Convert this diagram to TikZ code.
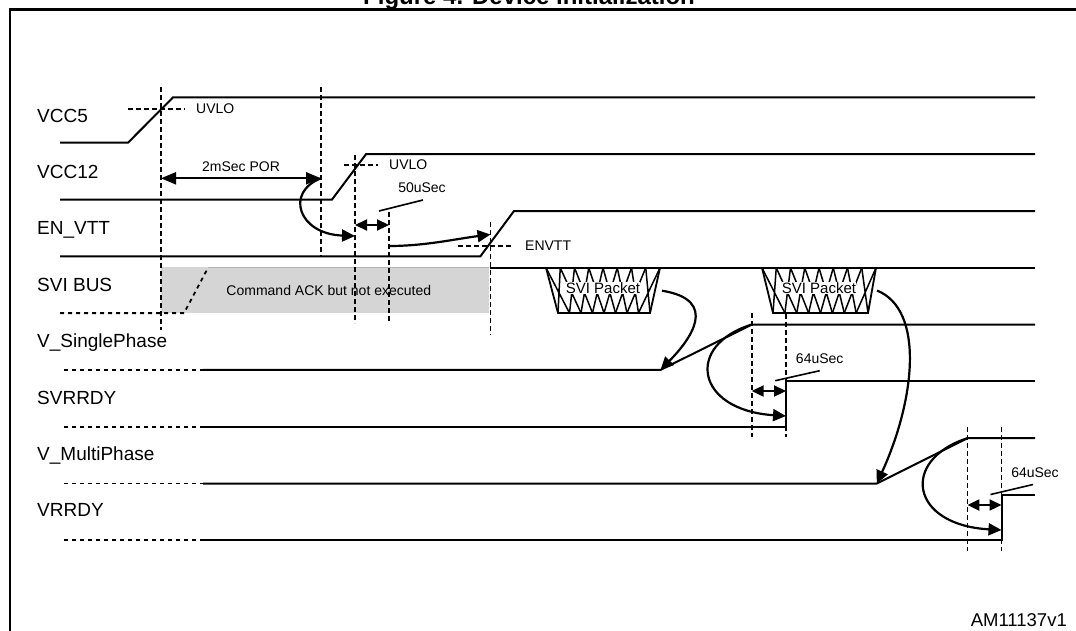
\documentclass[tikz,border=0pt]{standalone}
\usepackage{fontspec}
\setmainfont{Liberation Sans}
\usetikzlibrary{arrows.meta, positioning, calc}

\tikzset{
    % --- Signal waveform ---
    wave/.style = {line width=2pt, line join=miter},
    % --- Undefined level before start-up ---
    undef/.style = {line width=1.8pt, dash pattern=on 4pt off 4pt},
    % --- Timing marker (vertical line or threshold) ---
    tmark/.style = {line width=1.7pt, dash pattern=on 5pt off 3pt},
    % --- Signal name at the left ---
    signame/.style = {
        anchor=base west, inner sep=0pt,
        font=\fontsize{19}{22}\selectfont
    },
    % --- Small annotation text ---
    note/.style = {inner sep=0pt, font=\fontsize{14}{16}\selectfont},
    % --- Cause / effect arrow ---
    cause/.style = {
        line width=2.2pt,
        -{Triangle[length=13pt,width=12pt]}
    },
    % --- Delay interval arrow ---
    delay/.style = {
        line width=2.2pt,
        {Triangle[length=12pt,width=11pt]}-{Triangle[length=12pt,width=11pt]}
    },
    % --- Leader line from a label ---
    leader/.style = {line width=1.6pt},
    % --- SVI packet outline ---
    packet/.style = {line width=1.8pt, line join=miter}
}

\begin{document}
\begin{tikzpicture}[x=1pt, y=-1pt]
\useasboundingbox (0,0) rectangle (1076,630);

% ---------------------------------------------------------
% Frame, title and figure id
% ---------------------------------------------------------
\draw[line width=2.4pt] (10,660) -- (10,9.5) -- (1100,9.5);
\node[anchor=base, inner sep=0pt, font=\bfseries\fontsize{24}{28}\selectfont]
    (title) at (529,4) {Figure 4. Device initialization};
\node[anchor=east, inner sep=0pt, font=\fontsize{18.5}{22}\selectfont]
    (figid) at (1067,620) {AM11137v1};

% ---------------------------------------------------------
% Signal names
% ---------------------------------------------------------
\foreach \sig [count=\k from 0] in {VCC5, VCC12, EN\_VTT, SVI BUS,
    V\_SinglePhase, SVRRDY, V\_MultiPhase, VRRDY} {
    \node[signame] (name\k) at (37, 122.1+56.4*\k) {\sig};
}

% ---------------------------------------------------------
% Waveforms
% ---------------------------------------------------------
% VCC5, VCC12, EN_VTT
\draw[wave] (60,142.7) -- (128,142.7) -- (173,97.4) -- (1035,97.4);
\draw[wave] (60,199.5) -- (332,199.5) -- (366,154.2) -- (1035,154.2);
\draw[wave] (60,256.3) -- (480.4,256.3) -- (514,211) -- (1035,211);

% SVI BUS
\fill[gray!33] (161,267.3) rectangle (489,313.1);
\draw[gray!60, line width=1pt] (208,267.8) -- (489,267.8);
\draw[undef] (60,313.1) -- (184,313.1) -- (208,267.8);
\draw[wave] (489.5,267.8) -- (1035,267.8);
\node[note] (ack) at (328.8,290) {Command ACK but not executed};

% regulator outputs and ready flags
\foreach \lo in {369.9, 426.7, 483.5, 540.3}
    \draw[undef] (64,\lo) -- (203,\lo);
\draw[wave] (203,369.9) -- (660.5,369.9) -- (751.7,324.6) -- (1035,324.6);
\draw[wave] (203,426.7) -- (786,426.7) -- (786,381.4) -- (1035,381.4);
\draw[wave] (203,483.5) -- (876.8,483.5) -- (967.4,438.2) -- (1035,438.2);
\draw[wave] (203,540.3) -- (1001.5,540.3) -- (1001.5,495) -- (1035,495);

% ---------------------------------------------------------
% SVI packets
% ---------------------------------------------------------
\foreach \tl/\tr/\bl/\br/\nm in {546/660/558/650/pktA, 762/876/773/868/pktB} {
    \draw[packet] (\tl,267.8) -- (\bl,313) -- (\br,313) -- (\tr,267.8);
    \foreach \i in {0,...,7} {
        \pgfmathsetmacro\ta{\tl+\i*(\tr-\tl)/8}
        \pgfmathsetmacro\tb{\tl+(\i+1)*(\tr-\tl)/8}
        \pgfmathsetmacro\ba{\bl+\i*(\br-\bl)/8}
        \pgfmathsetmacro\bb{\bl+(\i+1)*(\br-\bl)/8}
        \draw[packet, line width=1.5pt]
            (\ta,267.8) -- (\bb,313) (\ba,313) -- (\tb,267.8);
    }
    \node[note, fill=white, inner sep=0.3pt, font=\fontsize{15}{17}\selectfont]
        (\nm) at ({(\tl+\tr)/2},288) {SVI Packet};
}

% ---------------------------------------------------------
% Thresholds and timing markers
% ---------------------------------------------------------
\draw[tmark] (128,108.7) -- (185,108.7);
\node[note, anchor=west] (uvloA) at (196,108.7) {UVLO};
\draw[tmark] (344,165) -- (378,165);
\node[note, anchor=west] (uvloB) at (389,165) {UVLO};
\draw[tmark] (458,246) -- (513,246);
\node[note, anchor=west] (envtt) at (525,246) {ENVTT};

\foreach \x/\ya/\yb in {161/87.3/330, 321/87.3/256.3, 355/155/323,
    389/212/323, 490.5/222/335, 751.7/313/437, 786/314/437,
    967.4/427/551, 1001.5/427/551}
    \draw[tmark] (\x,\ya) -- (\x,\yb);

% ---------------------------------------------------------
% Delays
% ---------------------------------------------------------
\coordinate (porL) at (161,178.3);
\coordinate (porR) at (321,178.3);
\draw[delay, {Triangle[length=15pt,width=12pt]}-{Triangle[length=15pt,width=12pt]}]
    (porL) -- (porR);
\node[note] (por) at (241,166.7) {2mSec POR};

\coordinate (dA1) at (355,225);
\coordinate (dA2) at (389,225);
\draw[delay] (dA1) -- (dA2);
\node[note] (usA) at (422,188) {50uSec};
\draw[leader] (379,211) -- (423,200);

\coordinate (dB1) at (751.7,391);
\coordinate (dB2) at (786,391);
\draw[delay] (dB1) -- (dB2);
\node[note] (usB) at (819.7,358.3) {64uSec};
\draw[leader] (775.2,380.7) -- (819.7,370.7);

\coordinate (dC1) at (967.4,505);
\coordinate (dC2) at (1001.5,505);
\draw[delay] (dC1) -- (dC2);
\node[note] (usC) at (1035,473) {64uSec};
\draw[leader] (990.5,494.5) -- (1033,484.5);

% ---------------------------------------------------------
% Cause / effect arrows
% ---------------------------------------------------------
\coordinate (vttEn) at (355,236);
\draw[cause] (porR) .. controls (285,192) and (298,234) .. (vttEn);

\coordinate (vttStart) at (389,246);
\coordinate (vttThr) at (490.5,234.5);
\draw[cause] (vttStart) .. controls (425,246) and (455,239) .. (vttThr);

\coordinate (pktAout) at (662,290.7);
\coordinate (spRise) at (660.5,369.9);
\draw[cause] (pktAout) .. controls (720,300) and (690,340) .. (spRise);

\coordinate (spTop) at (751.7,324.6);
\coordinate (svrOn) at (786,416);
\draw[cause] (spTop) .. controls (685,345) and (695,410) .. (svrOn);

\coordinate (pktBout) at (877,290.5);
\coordinate (mpRise) at (876.8,483.5);
\draw[cause] (pktBout) .. controls (925,310) and (915,400) .. (mpRise);

\coordinate (mpTop) at (967.4,438.2);
\coordinate (vrOn) at (1001.5,530);
\draw[cause] (mpTop) .. controls (900,460) and (910,525) .. (vrOn);

\end{tikzpicture}
\end{document}
